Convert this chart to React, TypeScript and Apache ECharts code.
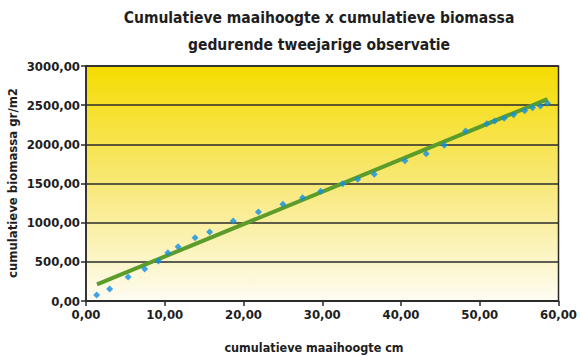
import React, { useEffect, useRef } from "react";
import * as echarts from "echarts";

const titleLines = ["Cumulatieve maaihoogte x cumulatieve biomassa", "gedurende tweejarige observatie"];
const xAxisTitle = "cumulatieve maaihoogte cm";
const yAxisTitle = "cumulatieve biomassa gr/m2";

const heightCm = [1.35, 3.0, 5.35, 7.45, 9.2, 10.4, 11.7, 13.85, 15.7, 18.7, 21.9, 25.0, 27.5, 29.8, 32.6, 34.5, 36.6, 40.5, 43.2, 45.5, 48.2, 50.9, 51.9, 53.1, 54.3, 55.7, 56.7, 57.7, 58.6];
const biomass = [77, 153, 306, 409, 511, 617, 693, 808, 881, 1022, 1137, 1235, 1319, 1401, 1498, 1554, 1618, 1792, 1881, 1988, 2171, 2264, 2299, 2333, 2379, 2430, 2468, 2490, 2525];

const trendX = [1.4, 58.6];
const trendY = [212, 2578];

const FONT = "'DejaVu Sans Condensed', 'Liberation Sans Narrow', 'Liberation Sans', sans-serif";
const fmt = (v: number) => v.toFixed(2).replace(".", ",");

export default function App() {
  const ref = useRef<HTMLDivElement>(null);
  useEffect(() => {
    if (!ref.current) return;
    const chart = echarts.init(ref.current, undefined, { renderer: "svg" });
    chart.setOption({
      animation: false,
      backgroundColor: "#ffffff",
      title: {
        text: titleLines.join("\n"),
        left: 314,
        top: -1,
        textAlign: "center",
        textStyle: { fontFamily: FONT, fontWeight: "bold", fontSize: 15.5, lineHeight: 27, color: "#1e1e1e" },
      },
      grid: {
        left: 86,
        right: 18,
        top: 66,
        bottom: 55,
        show: true,
        borderColor: "#2a2a2a",
        borderWidth: 1.5,
        backgroundColor: new echarts.graphic.LinearGradient(0, 0, 0, 1, [
          { offset: 0, color: "#f5dc00" },
          { offset: 0.5, color: "#f8e878" },
          { offset: 1, color: "#fefcf2" },
        ]),
      },
      xAxis: {
        type: "value",
        min: 0,
        max: 60,
        interval: 10,
        axisLine: { show: true, lineStyle: { color: "#2a2a2a", width: 1.5 } },
        axisTick: { show: true, length: 5, lineStyle: { color: "#2a2a2a", width: 1.5 } },
        splitLine: { show: false },
        axisLabel: { formatter: fmt, fontFamily: FONT, fontWeight: "bold", fontSize: 13, color: "#1e1e1e", margin: 7 },
      },
      yAxis: {
        type: "value",
        min: 0,
        max: 3000,
        interval: 500,
        axisLine: { show: true, lineStyle: { color: "#2a2a2a", width: 1.5 } },
        axisTick: { show: true, length: 5, lineStyle: { color: "#2a2a2a", width: 1.5 } },
        splitLine: { show: true, lineStyle: { color: "#2a2a2a", width: 1.5 } },
        axisLabel: { formatter: fmt, fontFamily: FONT, fontWeight: "bold", fontSize: 13, color: "#1e1e1e", margin: 6 },
      },
      series: [
        {
          type: "line",
          data: trendX.map((x, i) => [x, trendY[i]]),
          showSymbol: false,
          symbol: "none",
          lineStyle: { color: "#5c9c2a", width: 4 },
          z: 2,
        },
        {
          type: "scatter",
          data: heightCm.map((x, i) => [x, biomass[i]]),
          symbol: "diamond",
          symbolSize: 7,
          itemStyle: { color: "#0f8ee6" },
          z: 3,
        },
      ],
      graphic: [
        {
          type: "text",
          x: 314,
          y: 347,
          style: { text: xAxisTitle, fontFamily: FONT, fontWeight: "bold", fontSize: 12.5, fill: "#1e1e1e", align: "center", verticalAlign: "middle" },
        },
        {
          type: "text",
          x: 12,
          y: 183,
          rotation: Math.PI / 2,
          style: { text: yAxisTitle, fontFamily: FONT, fontWeight: "bold", fontSize: 13, fill: "#1e1e1e", align: "center", verticalAlign: "middle" },
        },
      ],
    });
    return () => chart.dispose();
  }, []);
  return <div ref={ref} style={{ width: 580, height: 356, position: "absolute", left: 0, top: 0 }} />;
}
